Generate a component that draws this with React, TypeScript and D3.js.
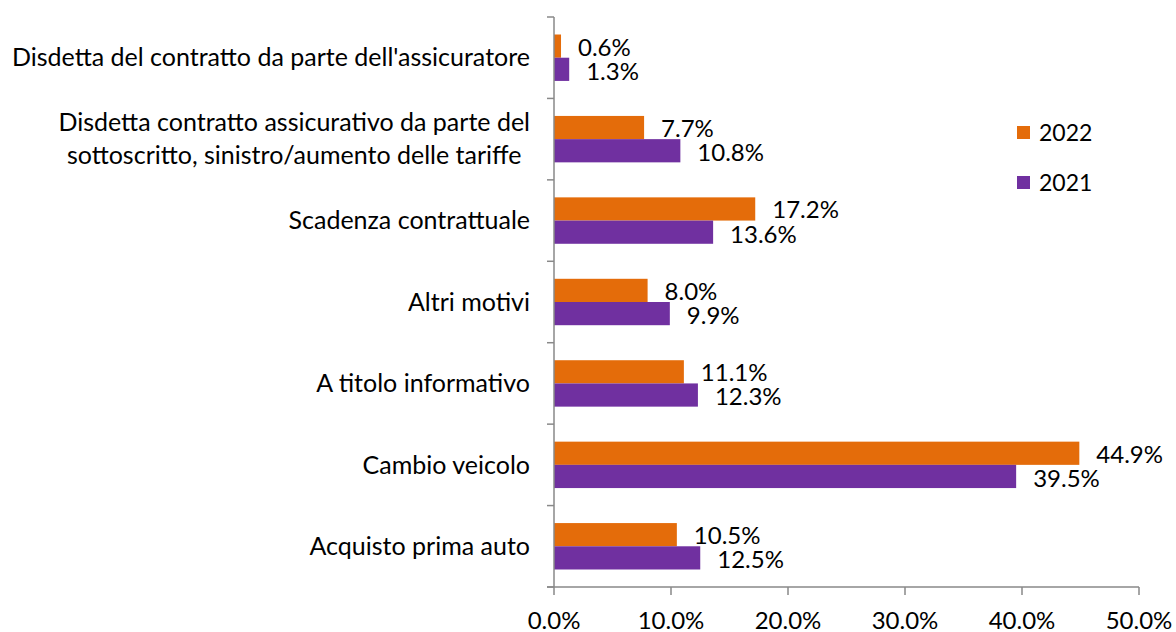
import React, { useEffect, useRef } from "react";
import * as d3 from "d3";

const categories: string[][] = [
  ["Disdetta del contratto da parte dell'assicuratore"],
  ["Disdetta contratto assicurativo da parte del", "sottoscritto, sinistro/aumento delle tariffe"],
  ["Scadenza contrattuale"],
  ["Altri motivi"],
  ["A titolo informativo"],
  ["Cambio veicolo"],
  ["Acquisto prima auto"],
];
const values2022 = [0.6, 7.7, 17.2, 8.0, 11.1, 44.9, 10.5];
const values2021 = [1.3, 10.8, 13.6, 9.9, 12.3, 39.5, 12.5];
const xTicks = [0, 10, 20, 30, 40, 50];
const seriesNames = ["2022", "2021"];

const W = 1176;
const H = 632;
const FONT = "Lato, 'Open Sans', sans-serif";
const ORANGE = "#E46C0A";
const PURPLE = "#7030A0";
const AXIS = "#898989";

export default function App() {
  const ref = useRef<SVGSVGElement>(null);
  useEffect(() => {
    const svg = d3.select(ref.current);
    svg.selectAll("*").remove();
    const x = d3.scaleLinear().domain([0, 50]).range([554, 1139]);
    const idx = categories.map((_, i) => String(i));
    const y = d3.scaleBand().domain(idx).range([17, 587]).padding(0);
    const bh = y.bandwidth() * 0.285;

    const g = svg.append("g").attr("font-family", FONT).attr("font-size", 24).attr("fill", "#000");

    // bars
    idx.forEach((k, i) => {
      const c = (y(k) as number) + y.bandwidth() / 2;
      g.append("rect").attr("x", x(0)).attr("y", c - bh).attr("width", x(values2022[i]) - x(0)).attr("height", bh).attr("fill", ORANGE);
      g.append("rect").attr("x", x(0)).attr("y", c).attr("width", x(values2021[i]) - x(0)).attr("height", bh).attr("fill", PURPLE);
      g.append("text").attr("x", x(values2022[i]) + 17).attr("y", c - bh / 2 + 1).attr("dy", "0.35em").text(values2022[i].toFixed(1) + "%");
      g.append("text").attr("x", x(values2021[i]) + 17).attr("y", c + bh / 2 + 2).attr("dy", "0.35em").text(values2021[i].toFixed(1) + "%");
    });

    // y axis
    g.append("line").attr("x1", x(0)).attr("x2", x(0)).attr("y1", 17).attr("y2", 587).attr("stroke", AXIS).attr("stroke-width", 1.5);
    const bounds = idx.map((k) => y(k) as number).concat([587]);
    bounds.forEach((b) => {
      g.append("line").attr("x1", x(0) - 7).attr("x2", x(0)).attr("y1", b).attr("y2", b).attr("stroke", AXIS).attr("stroke-width", 1.5);
    });
    // x axis
    g.append("line").attr("x1", x(0) - 7).attr("x2", x(50)).attr("y1", 587).attr("y2", 587).attr("stroke", AXIS).attr("stroke-width", 1.5);
    xTicks.forEach((t) => {
      g.append("line").attr("x1", x(t)).attr("x2", x(t)).attr("y1", 587).attr("y2", 595).attr("stroke", AXIS).attr("stroke-width", 1.5);
      g.append("text").attr("x", x(t)).attr("y", 629).attr("text-anchor", "middle").text(t.toFixed(1) + "%");
    });

    // category labels
    idx.forEach((k, i) => {
      const c = (y(k) as number) + y.bandwidth() / 2;
      const lines = categories[i];
      if (lines.length === 1) {
        g.append("text").attr("x", 530).attr("y", c).attr("dy", "0.35em").attr("font-size", 25).attr("text-anchor", "end").text(lines[0]);
      } else {
        const tmp = lines.map((l, j) =>
          g.append("text").attr("y", c + (j - (lines.length - 1) / 2) * 33).attr("dy", "0.35em").attr("font-size", 25).attr("text-anchor", "middle").text(l)
        );
        const maxW = d3.max(tmp, (t) => (t.node() as SVGTextElement).getComputedTextLength()) || 0;
        tmp.forEach((t) => t.attr("x", 530 - maxW / 2));
      }
    });

    // legend
    const colors = [ORANGE, PURPLE];
    seriesNames.forEach((s, i) => {
      const ly = 126 + i * 50;
      g.append("rect").attr("x", 1017).attr("y", ly).attr("width", 13).attr("height", 13).attr("fill", colors[i]);
      g.append("text").attr("x", 1039).attr("y", ly + 15).attr("font-size", 23).text(s);
    });
  }, []);
  return <svg ref={ref} width={W} height={H} style={{ position: "absolute", left: 0, top: 0, background: "#fff" }} />;
}
